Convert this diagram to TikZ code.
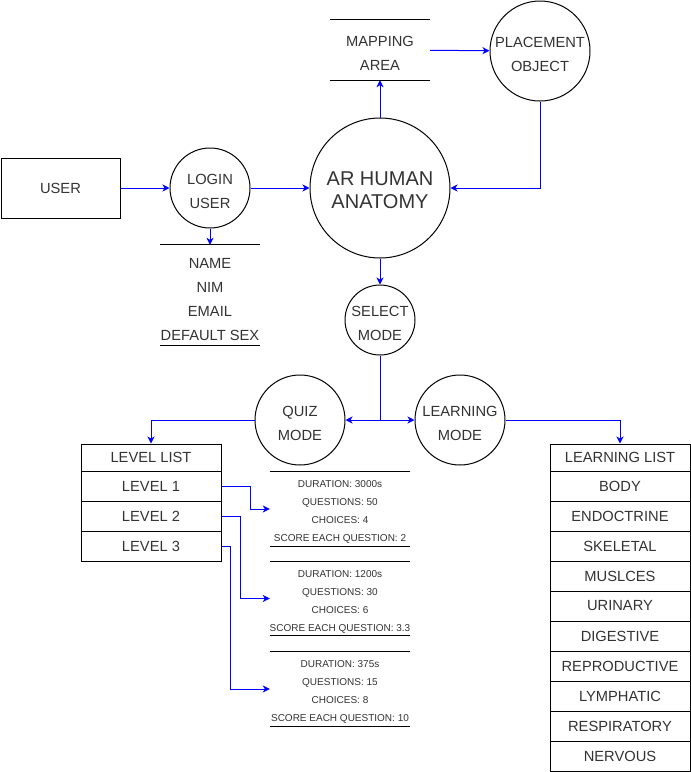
\documentclass[tikz,border=0pt]{standalone}
\usepackage{fontspec}
\setmainfont{Liberation Sans}
\usetikzlibrary{positioning,arrows.meta}
\definecolor{flowblue}{HTML}{0000FF}
\definecolor{txtgray}{HTML}{333333}
\tikzset{
    every node/.style={text=txtgray, align=center, inner sep=0pt,
        font=\fontsize{14.7}{24}\selectfont},
    proc/.style={draw=black, line width=1pt, circle, minimum size=#1},
    cell/.style={draw=black, line width=1pt, minimum width=140, minimum height=30},
    store/.style={minimum width=#1},
    small/.style={font=\fontsize{10}{18}\selectfont},
    lower/.style={yshift=-#1},
    lower/.default=3pt,
    flow/.style={draw=flowblue, line width=1pt, -{Stealth[length=7pt,width=7pt,inset=2pt]}},
}
\begin{document}
\begin{tikzpicture}[x=1pt,y=-1pt]
    \useasboundingbox (0,0) rectangle (691,772);
    % external entity and processes
    \node[draw=black, line width=1pt, minimum width=119, minimum height=60] (user) at (60.5,188) {USER};
    \node[proc=80, label={[lower]center:{LOGIN\\USER}}] (login) at (210,188) {};
    \node[proc=140, label={[lower=2pt, font=\fontsize{20}{23}\selectfont]center:{AR HUMAN\\ANATOMY}}] (ar) at (380,188) {};
    \node[proc=100, label={[lower]center:{PLACEMENT\\OBJECT}}] (placement) at (540,51) {};
    \node[proc=70, label={[lower]center:{SELECT\\MODE}}] (select) at (380,320) {};
    \node[proc=90, label={[lower]center:{QUIZ\\MODE}}] (quiz) at (300,420) {};
    \node[proc=90, label={[lower]center:{LEARNING\\MODE}}] (learn) at (460,420) {};
    \coordinate (split) at (380,420);
    % data stores
    \node[store=100, minimum height=60, label={[lower]center:{MAPPING\\AREA}}] (mapping) at (380,50) {};
    \node[store=100, minimum height=100, label={[lower=5pt]center:{NAME\\NIM\\EMAIL\\DEFAULT SEX}}] (userdata) at (210,295) {};
    \node[store=140, minimum height=74, label={[small,lower]center:{DURATION: 3000s\\QUESTIONS: 50\\CHOICES: 4\\SCORE EACH QUESTION: 2}}] (info1) at (340,509) {};
    \node[store=140, minimum height=74, label={[small,lower]center:{DURATION: 1200s\\QUESTIONS: 30\\CHOICES: 6\\SCORE EACH QUESTION: 3.3}}] (info2) at (340,598.5) {};
    \node[store=140, minimum height=74, label={[small,lower]center:{DURATION: 375s\\QUESTIONS: 15\\CHOICES: 8\\SCORE EACH QUESTION: 10}}] (info3) at (340,689) {};
    \foreach \s in {mapping,userdata,info1,info2,info3}
        \draw[line width=1pt] (\s.north west) -- (\s.north east) (\s.south west) -- (\s.south east);
    % lists
    \node[cell, minimum height=27] (levellist) at (151,457.5) {LEVEL LIST};
    \foreach \i in {1,2,3}
        \node[cell] (level\i) at (151,{456+30*\i}) {LEVEL \i};
    \node[cell, minimum height=27] (learnlist) at (620,457.5) {LEARNING LIST};
    \foreach \t [count=\i] in {BODY,ENDOCTRINE,SKELETAL,MUSLCES,URINARY,DIGESTIVE,REPRODUCTIVE,LYMPHATIC,RESPIRATORY,NERVOUS}
        \node[cell] (topic\i) at (620,{456+30*\i}) {\t};
    % flows
    \draw[flow] (user) -- (login);
    \draw[flow] (login) -- (ar);
    \draw[flow] (login) -- (userdata);
    \draw[flow] (ar) -- (mapping);
    \draw[flow] (mapping) -- (placement);
    \draw[flow] (placement) |- (ar);
    \draw[flow] (ar) -- (select);
    \draw[flow] (select) -- (split) -- (quiz);
    \draw[flow] (split) -- (learn);
    \draw[flow] (quiz) -| (levellist);
    \draw[flow] (learn) -| (learnlist);
    \draw[flow] (level1.east) -- ++(29,0) |- (info1.west);
    \draw[flow] (level2.east) -- ++(19,0) |- (info2.west);
    \draw[flow] (level3.east) -- ++(9,0) |- (info3.west);
\end{tikzpicture}
\end{document}
